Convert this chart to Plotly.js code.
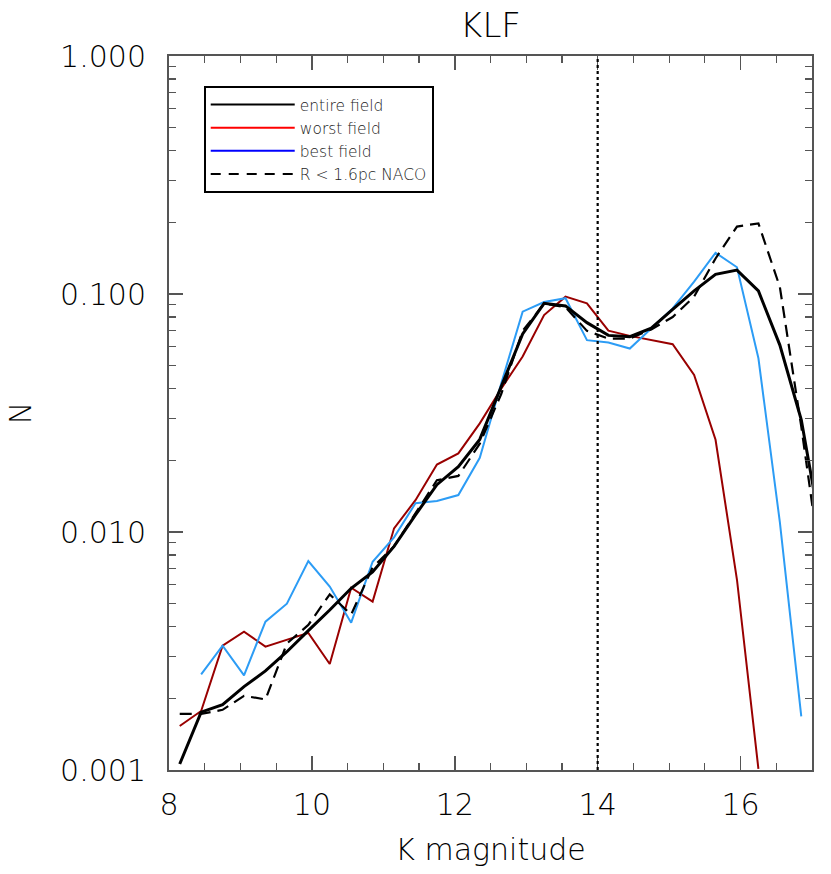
<!DOCTYPE html>
<html>
<head>
<meta charset="utf-8">
<script src="https://cdn.plot.ly/plotly-3.0.1.min.js"></script>
<style>html,body{margin:0;padding:0;background:#fff;}#chart{width:831px;height:874px;}</style>
</head>
<body>
<div id="chart"></div>
<script>
// K magnitude bin centres
var kmag = [8.15, 8.45, 8.75, 9.05, 9.35, 9.65, 9.95, 10.25, 10.55, 10.85,
            11.15, 11.45, 11.75, 12.05, 12.35, 12.65, 12.95, 13.25, 13.55, 13.85,
            14.15, 14.45, 14.75, 15.05, 15.35, 15.65, 15.95, 16.25, 16.55, 16.85, 17.15];

var entireField = [0.00106, 0.00175, 0.00188, 0.00224, 0.00261, 0.00314, 0.00385, 0.0047, 0.0058, 0.0068,
                   0.0087, 0.0118, 0.0158, 0.0188, 0.0245, 0.041, 0.068, 0.0914, 0.0891, 0.0758,
                   0.067, 0.0662, 0.0718, 0.0862, 0.103, 0.121, 0.126, 0.103, 0.061, 0.0296, 0.0092];

var worstField = [0.00153, 0.00177, 0.00333, 0.00381, 0.0033, 0.00354, 0.00377, 0.00279, 0.00583, 0.0051,
                  0.01036, 0.0136, 0.0192, 0.0214, 0.0286, 0.040, 0.0546, 0.0816, 0.0975, 0.0914,
                  0.0701, 0.0667, 0.064, 0.0615, 0.0457, 0.0244, 0.0063, 0.00101, null, null, null];

var bestField = [null, 0.00252, 0.00333, 0.0025, 0.0042, 0.0050, 0.00755, 0.0059, 0.00416, 0.0075,
                 0.0095, 0.0132, 0.0135, 0.0143, 0.0205, 0.0421, 0.0843, 0.0925, 0.096, 0.064,
                 0.0625, 0.059, 0.0718, 0.087, 0.1127, 0.149, 0.1295, 0.0537, 0.011, 0.00168, null];

var nacoInner = [0.00172, 0.00172, 0.00179, 0.00205, 0.00198, 0.0034, 0.00407, 0.00547, 0.0045, 0.0071,
                 0.0087, 0.0120, 0.0165, 0.0172, 0.0235, 0.038, 0.070, 0.091, 0.088, 0.070,
                 0.065, 0.065, 0.071, 0.080, 0.0975, 0.141, 0.192, 0.198, 0.107, 0.0277, 0.0063];

var legendNames = ["entire field", "worst field", "best field", "R < 1.6pc NACO"];
var completenessLimit = 14;

var FONT = "DejaVu Sans, sans-serif";
var W = 200;
var AXC = "#555555";
var TXC = "#000000";

var traces = [
  {x: kmag, y: worstField, mode: "lines", line: {color: "#990000", width: 2}, showlegend: false, connectgaps: false},
  {x: kmag, y: bestField, mode: "lines", line: {color: "#2c9cf5", width: 2}, showlegend: false, connectgaps: false},
  {x: kmag, y: nacoInner, mode: "lines", line: {color: "#000000", width: 2.2, dash: "12px,7px"}, showlegend: false},
  {x: kmag, y: entireField, mode: "lines", line: {color: "#000000", width: 3}, showlegend: false},
  // legend entries (legend colours as in the original figure)
  {x: [null], y: [null], mode: "lines", name: legendNames[0], line: {color: "#000000", width: 2}},
  {x: [null], y: [null], mode: "lines", name: legendNames[1], line: {color: "#ff0000", width: 2}},
  {x: [null], y: [null], mode: "lines", name: legendNames[2], line: {color: "#0000ff", width: 2}},
  {x: [null], y: [null], mode: "lines", name: legendNames[3], line: {color: "#000000", width: 2, dash: "10px,8px"}}
];

var layout = {
  width: 831, height: 874,
  margin: {l: 169, r: 18.5, t: 56, b: 104, pad: 0},
  paper_bgcolor: "#ffffff", plot_bgcolor: "#ffffff",
  font: {family: FONT, color: TXC, size: 30, weight: W},
  title: {text: "KLF", x: 0.5, xref: "paper", xanchor: "center", y: 0.971, yref: "container", yanchor: "middle",
          font: {family: FONT, size: 34, color: TXC, weight: W}},
  showlegend: true,
  legend: {x: 0.054, y: 0.958, xanchor: "left", yanchor: "top", bgcolor: "#ffffff",
           bordercolor: "#000000", borderwidth: 2, font: {family: FONT, size: 15.5, color: "#222222", weight: W},
           itemwidth: 84, tracegroupgap: 0, traceorder: "normal"},
  xaxis: {
    range: [8, 17], type: "linear", showgrid: false, zeroline: false,
    showline: true, linecolor: AXC, linewidth: 2, mirror: "ticks",
    ticks: "inside", ticklen: 14, tickwidth: 1.5, tickcolor: AXC,
    tickvals: [8, 10, 12, 14, 16], ticktext: ["8", "10", "12", "14", "16"],
    tickfont: {family: FONT, size: 30, color: TXC, weight: W}, ticklabelstandoff: 7,
    minor: {dtick: 0.5, tick0: 8, ticks: "inside", ticklen: 7, tickwidth: 1.2, tickcolor: AXC, showgrid: false},
    title: {text: "K magnitude", font: {family: FONT, size: 30, color: TXC, weight: W}, standoff: 18}
  },
  yaxis: {
    type: "log", range: [-3, 0], showgrid: false, zeroline: false,
    showline: true, linecolor: AXC, linewidth: 2, mirror: "ticks",
    ticks: "inside", ticklen: 14, tickwidth: 1.5, tickcolor: AXC,
    tickvals: [0.001, 0.01, 0.1, 1], ticktext: ["0.001", "0.010", "0.100", "1.000"],
    tickfont: {family: FONT, size: 30, color: TXC, weight: W}, ticklabelstandoff: 15,
    minor: {dtick: "D1", ticks: "inside", ticklen: 7, tickwidth: 1.2, tickcolor: AXC, showgrid: false},
    title: {text: "N", font: {family: FONT, size: 30, color: TXC, weight: W}, standoff: 20}
  },
  shapes: [
    {type: "line", xref: "x", yref: "paper", x0: completenessLimit, x1: completenessLimit, y0: 0, y1: 1,
     line: {color: "#000000", width: 2.2, dash: "dot"}, layer: "above"}
  ]
};

Plotly.newPlot("chart", traces, layout, {displayModeBar: false, staticPlot: true});
</script>
</body>
</html>
